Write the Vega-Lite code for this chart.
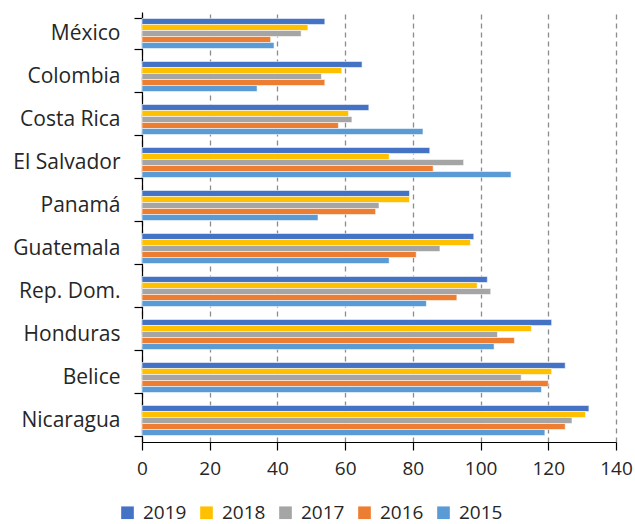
{
  "$schema": "https://vega.github.io/schema/vega-lite/v6.json",
  "width": 474,
  "height": 430,
  "autosize": {"type": "none"},
  "padding": {"left": 142, "top": 12, "right": 19, "bottom": 82},
  "config": {
    "font": "Open Sans",
    "view": {"stroke": null},
    "axis": {"labelFont": "Open Sans", "labelColor": "#262626"},
    "legend": {"labelFont": "Open Sans"}
  },
  "data": {
    "values": [
      {"pais": "México", "anio": "2019", "valor": 54},
      {"pais": "México", "anio": "2018", "valor": 49},
      {"pais": "México", "anio": "2017", "valor": 47},
      {"pais": "México", "anio": "2016", "valor": 38},
      {"pais": "México", "anio": "2015", "valor": 39},
      {"pais": "Colombia", "anio": "2019", "valor": 65},
      {"pais": "Colombia", "anio": "2018", "valor": 59},
      {"pais": "Colombia", "anio": "2017", "valor": 53},
      {"pais": "Colombia", "anio": "2016", "valor": 54},
      {"pais": "Colombia", "anio": "2015", "valor": 34},
      {"pais": "Costa Rica", "anio": "2019", "valor": 67},
      {"pais": "Costa Rica", "anio": "2018", "valor": 61},
      {"pais": "Costa Rica", "anio": "2017", "valor": 62},
      {"pais": "Costa Rica", "anio": "2016", "valor": 58},
      {"pais": "Costa Rica", "anio": "2015", "valor": 83},
      {"pais": "El Salvador", "anio": "2019", "valor": 85},
      {"pais": "El Salvador", "anio": "2018", "valor": 73},
      {"pais": "El Salvador", "anio": "2017", "valor": 95},
      {"pais": "El Salvador", "anio": "2016", "valor": 86},
      {"pais": "El Salvador", "anio": "2015", "valor": 109},
      {"pais": "Panamá", "anio": "2019", "valor": 79},
      {"pais": "Panamá", "anio": "2018", "valor": 79},
      {"pais": "Panamá", "anio": "2017", "valor": 70},
      {"pais": "Panamá", "anio": "2016", "valor": 69},
      {"pais": "Panamá", "anio": "2015", "valor": 52},
      {"pais": "Guatemala", "anio": "2019", "valor": 98},
      {"pais": "Guatemala", "anio": "2018", "valor": 97},
      {"pais": "Guatemala", "anio": "2017", "valor": 88},
      {"pais": "Guatemala", "anio": "2016", "valor": 81},
      {"pais": "Guatemala", "anio": "2015", "valor": 73},
      {"pais": "Rep. Dom.", "anio": "2019", "valor": 102},
      {"pais": "Rep. Dom.", "anio": "2018", "valor": 99},
      {"pais": "Rep. Dom.", "anio": "2017", "valor": 103},
      {"pais": "Rep. Dom.", "anio": "2016", "valor": 93},
      {"pais": "Rep. Dom.", "anio": "2015", "valor": 84},
      {"pais": "Honduras", "anio": "2019", "valor": 121},
      {"pais": "Honduras", "anio": "2018", "valor": 115},
      {"pais": "Honduras", "anio": "2017", "valor": 105},
      {"pais": "Honduras", "anio": "2016", "valor": 110},
      {"pais": "Honduras", "anio": "2015", "valor": 104},
      {"pais": "Belice", "anio": "2019", "valor": 125},
      {"pais": "Belice", "anio": "2018", "valor": 121},
      {"pais": "Belice", "anio": "2017", "valor": 112},
      {"pais": "Belice", "anio": "2016", "valor": 120},
      {"pais": "Belice", "anio": "2015", "valor": 118},
      {"pais": "Nicaragua", "anio": "2019", "valor": 132},
      {"pais": "Nicaragua", "anio": "2018", "valor": 131},
      {"pais": "Nicaragua", "anio": "2017", "valor": 127},
      {"pais": "Nicaragua", "anio": "2016", "valor": 125},
      {"pais": "Nicaragua", "anio": "2015", "valor": 119}
    ]
  },
  "mark": {"type": "bar", "stroke": "white", "strokeWidth": 0.8, "strokeOpacity": 0.7},
  "encoding": {
    "y": {
      "field": "pais",
      "type": "nominal",
      "sort": null,
      "scale": {"paddingInner": 0.3, "paddingOuter": 0.15},
      "axis": {
        "title": null,
        "domainColor": "#000000",
        "domainWidth": 1.2,
        "tickColor": "#000000",
        "tickWidth": 1.2,
        "tickSize": 8,
        "tickBand": "extent",
        "labelFontSize": 21,
        "labelPadding": 14,
        "labelColor": "#262626"
      }
    },
    "yOffset": {
      "field": "anio",
      "type": "nominal",
      "sort": ["2019", "2018", "2017", "2016", "2015"],
      "scale": {"paddingInner": 0, "paddingOuter": 0}
    },
    "x": {
      "field": "valor",
      "type": "quantitative",
      "scale": {"domain": [0, 140], "nice": false},
      "axis": {
        "title": null,
        "values": [0, 20, 40, 60, 80, 100, 120, 140],
        "grid": true,
        "gridColor": "#8c8c8c",
        "gridDash": [5, 4],
        "gridWidth": 1.3,
        "domainColor": "#000000",
        "domainWidth": 1.2,
        "tickColor": "#000000",
        "tickWidth": 1.2,
        "tickSize": 8,
        "labelFlush": false,
        "labelFontSize": 19,
        "labelPadding": 9,
        "labelColor": "#262626"
      }
    },
    "color": {
      "field": "anio",
      "type": "nominal",
      "sort": ["2019", "2018", "2017", "2016", "2015"],
      "scale": {
        "domain": ["2019", "2018", "2017", "2016", "2015"],
        "range": ["#4472C4", "#FFC000", "#A5A5A5", "#ED7D31", "#5B9BD5"]
      },
      "legend": {
        "title": null,
        "orient": "none",
        "direction": "horizontal",
        "legendX": -24,
        "legendY": 491,
        "symbolType": "square",
        "symbolSize": 160,
        "symbolStrokeWidth": 0,
        "labelFontSize": 19,
        "labelColor": "#262626",
        "columnPadding": 10,
        "labelOffset": 6
      }
    }
  }
}
